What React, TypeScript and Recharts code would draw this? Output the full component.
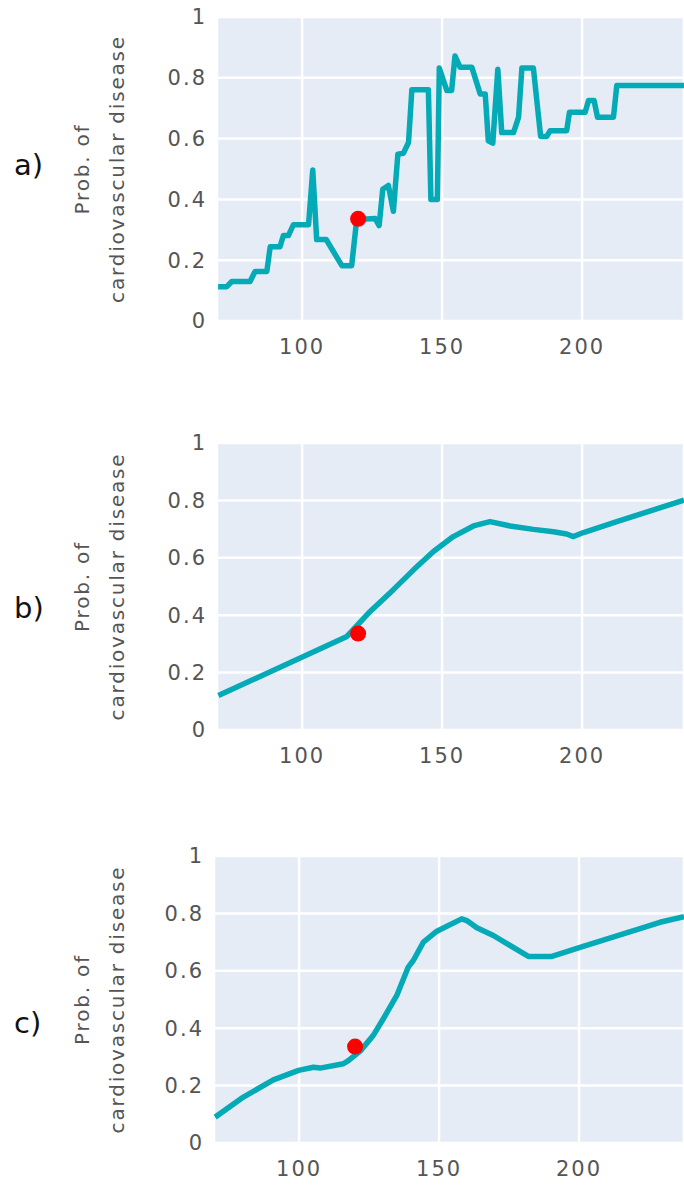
import React from "react"
import {
  ComposedChart,
  Line,
  Scatter,
  XAxis,
  YAxis,
  CartesianGrid,
  Label,
} from "recharts"

// x ticks / y ticks shared by all three panels
const xTicks = [100, 150, 200]
const yTicks = [0, 0.2, 0.4, 0.6, 0.8, 1]

// a) step-like curve
const aX = [
  70, 73.1, 74.9, 81.4, 83.2, 87.4, 88.6, 92.1, 93.3, 95.1, 96.9, 102.3, 103.8, 105.2, 108.6, 114.2,
  117.7, 119.5, 126.1, 127.5, 128.8, 130.8, 132.6, 134.2, 136.2, 138.0, 139.2, 145.1, 146.0, 148.3,
  149.0, 151.7, 153.4, 154.6, 156.4, 160.6, 163.6, 165.4, 166.5, 168.1, 169.9, 171.3, 175.5, 177.3,
  178.5, 182.6, 185.2, 187.4, 188.6, 194.5, 195.5, 201.1, 202.3, 204.3, 205.5, 211.2, 212.4, 236.4,
]
const aY = [
  0.113, 0.113, 0.13, 0.13, 0.163, 0.163, 0.244, 0.244, 0.281, 0.281, 0.317, 0.317, 0.497, 0.268,
  0.268, 0.182, 0.182, 0.334, 0.337, 0.314, 0.433, 0.446, 0.361, 0.549, 0.552, 0.587, 0.761, 0.761,
  0.4, 0.4, 0.832, 0.758, 0.758, 0.872, 0.835, 0.835, 0.747, 0.747, 0.593, 0.585, 0.828, 0.62, 0.62,
  0.67, 0.832, 0.832, 0.607, 0.607, 0.626, 0.626, 0.687, 0.687, 0.725, 0.725, 0.67, 0.67, 0.775, 0.775,
]

// b) smooth-ish curve
const bX = [70.1, 116.0, 124.3, 132.6, 139.8, 146.9, 154.0, 161.2, 167.1, 174.3, 182.6, 189.8, 194.5, 196.9, 200.5, 212.4, 236.4]
const bY = [0.12, 0.326, 0.413, 0.489, 0.558, 0.622, 0.674, 0.711, 0.726, 0.711, 0.699, 0.691, 0.683, 0.674, 0.688, 0.726, 0.801]

// c) curve
const cX = [70, 80.1, 90.8, 99.8, 105.1, 107.5, 115.8, 117.6, 121.8, 126.5, 130.1, 134.9, 139.0, 140.8, 144.4, 149.2, 158.1, 159.9, 163.5, 169.4, 181.9, 190.3, 201.5, 215.8, 228.9, 237.5]
const cY = [0.09, 0.16, 0.22, 0.253, 0.264, 0.261, 0.276, 0.287, 0.32, 0.375, 0.433, 0.514, 0.613, 0.636, 0.7, 0.738, 0.781, 0.775, 0.75, 0.723, 0.65, 0.65, 0.685, 0.729, 0.769, 0.789]

// the highlighted observation
const pointX = [120]
const pointY = [0.336]

const LINE_COLOR = "#04aab6"
const BG = "#e5ecf6"
const TICK_FONT = { fontFamily: "DejaVu Sans", fontSize: 21, fill: "#555", letterSpacing: 2 }

const zip = (xs: number[], ys: number[]) => xs.map((x, i) => ({ x, y: ys[i] }))

function AxisTitle({ viewBox, letter, letterY }: any) {
  const cy = viewBox.y + viewBox.height / 2
  const titleStyle = { fontFamily: "DejaVu Sans", fontSize: 20, fill: "#555", letterSpacing: 1.8 }
  return (
    <g>
      <text x={14} y={letterY} style={{ fontFamily: "DejaVu Sans", fontSize: 29, fill: "#111" }}>
        {letter}
      </text>
      <text
        transform={`translate(82, ${cy}) rotate(-90)`}
        textAnchor="middle"
        dominantBaseline="central"
        style={titleStyle}
      >
        Prob. of
      </text>
      <text
        transform={`translate(117, ${cy}) rotate(-90)`}
        textAnchor="middle"
        dominantBaseline="central"
        style={titleStyle}
      >
        cardiovascular disease
      </text>
    </g>
  )
}

interface PanelProps {
  letter: string
  letterY: number
  xs: number[]
  ys: number[]
  xMax: number
  height: number
  marginTop: number
  marginBottom: number
  marginLeft: number
}

function Panel({ letter, letterY, xs, ys, xMax, height, marginTop, marginBottom, marginLeft }: PanelProps) {
  const data = zip(xs, ys)
  const point = zip(pointX, pointY)
  return (
    <ComposedChart
      width={684}
      height={height}
      margin={{ top: marginTop, right: 0, bottom: marginBottom, left: marginLeft }}
    >
      <CartesianGrid fill={BG} fillOpacity={1} stroke="#fff" strokeWidth={2.5} />
      <XAxis
        type="number"
        dataKey="x"
        domain={[69.6, xMax]}
        ticks={xTicks}
        allowDataOverflow
        axisLine={false}
        tickLine={false}
        tickSize={0}
        tickMargin={18}
        height={40}
        tick={TICK_FONT}
      />
      <YAxis
        type="number"
        dataKey="y"
        domain={[0, 1]}
        ticks={yTicks}
        axisLine={false}
        tickLine={false}
        tickSize={0}
        tickMargin={10}
        width={60}
        tick={TICK_FONT}
      >
        <Label content={(props: any) => <AxisTitle {...props} letter={letter} letterY={letterY} />} />
      </YAxis>
      <Line
        data={data}
        type="linear"
        dataKey="y"
        stroke={LINE_COLOR}
        strokeWidth={5.5}
        strokeLinejoin="round"
        dot={false}
        activeDot={false}
        isAnimationActive={false}
      />
      <Scatter
        data={point}
        dataKey="y"
        isAnimationActive={false}
        shape={(p: any) => <circle cx={p.cx} cy={p.cy} r={8} fill="#ff0000" />}
      />
    </ComposedChart>
  )
}

export default function App() {
  return (
    <div style={{ position: "absolute", left: 0, top: 0, width: 684, height: 1185, background: "#fff" }}>
      <div style={{ position: "absolute", left: 0, top: 0 }}>
        <Panel letter="a)" letterY={175} xs={aX} ys={aY} xMax={236.4} height={370} marginTop={17} marginBottom={9} marginLeft={157} />
      </div>
      <div style={{ position: "absolute", left: 0, top: 420 }}>
        <Panel letter="b)" letterY={198} xs={bX} ys={bY} xMax={236.4} height={370} marginTop={23} marginBottom={20} marginLeft={157} />
      </div>
      <div style={{ position: "absolute", left: 0, top: 840 }}>
        <Panel letter="c)" letterY={193} xs={cX} ys={cY} xMax={237.5} height={345} marginTop={16} marginBottom={2} marginLeft={154} />
      </div>
    </div>
  )
}
